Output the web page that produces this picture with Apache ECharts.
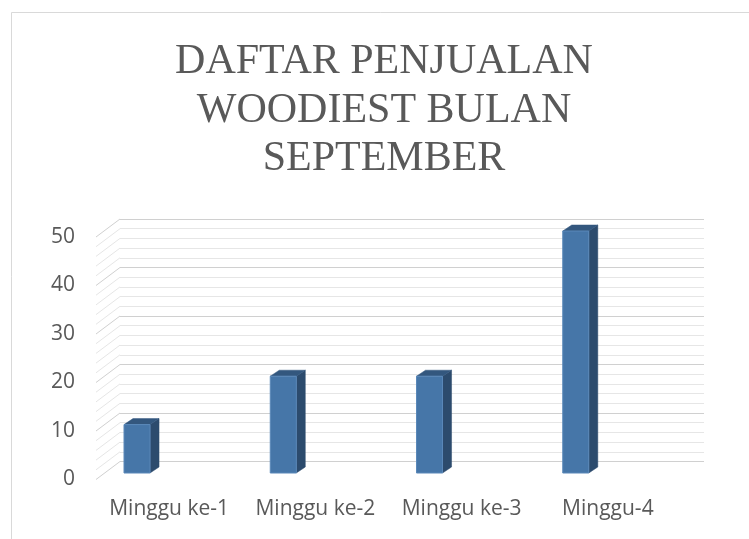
<!DOCTYPE html>
<html>
<head>
<meta charset="utf-8">
<script src="https://cdn.jsdelivr.net/npm/echarts@6/dist/echarts.min.js"></script>
<style>html,body{margin:0;padding:0;background:#fff;}#c{width:749px;height:539px;}</style>
</head>
<body>
<div id="c"></div>
<script>
// ---- data ----
var titleLines = ['DAFTAR PENJUALAN', 'WOODIEST BULAN', 'SEPTEMBER'];
var categories = ['Minggu ke-1', 'Minggu ke-2', 'Minggu ke-3', 'Minggu-4'];
var values = [10, 20, 20, 50];
var yTicks = [0, 10, 20, 30, 40, 50];
var minorPerMajor = 5;

// ---- derived ----
var yMin = yTicks[0], yMax = yTicks[yTicks.length - 1], yStep = yTicks[1] - yTicks[0];
var gridTicks = [];
for (var k = 0; k < yTicks.length; k++) {
  gridTicks.push([0, yTicks[k]]);
  if (k < yTicks.length - 1) {
    for (var m = 1; m < minorPerMajor; m++) gridTicks.push([0, yTicks[k] + m * yStep / minorPerMajor]);
  }
}

// 3D projection style constants
var WALL_DX = -24, WALL_DY = 18;   // back wall -> front plane
var BAR_DX = 9, BAR_DY = -6;       // bar depth
var BAR_PLANE_DY = -6;             // bar front face relative to front plane
var MAJOR = '#d0d0d0', MINOR = '#e6e6e6';

var chart = echarts.init(document.getElementById('c'));
chart.setOption({
  animation: false,
  backgroundColor: '#ffffff',
  title: {
    text: titleLines.join('\n'),
    left: 384, top: 38, padding: 0, textAlign: 'center',
    textStyle: { fontFamily: 'Liberation Serif', fontSize: 42, lineHeight: 48.5, fontWeight: 'normal', color: '#595959' }
  },
  graphic: [{
    type: 'rect', shape: { x: 11.5, y: 12.5, width: 900, height: 700 },
    style: { fill: 'none', stroke: '#d9d9d9', lineWidth: 1 }, silent: true, z: -10
  }],
  grid: [
    { left: 120, right: 45, top: 219, bottom: 77.5 },   // back wall
    { left: 96, right: 68, top: 237, bottom: 60 }      // front plane
  ],
  xAxis: [
    { gridIndex: 0, type: 'value', min: 0, max: 1, show: false },
    { gridIndex: 1, type: 'category', data: categories,
      axisLine: { show: false }, axisTick: { show: false }, splitLine: { show: false },
      axisLabel: { interval: 0, margin: 20, fontFamily: 'Open Sans', fontSize: 21, color: '#595959' } }
  ],
  yAxis: [
    { gridIndex: 0, type: 'value', min: yMin, max: yMax, interval: yStep,
      axisLine: { show: false }, axisTick: { show: false }, axisLabel: { show: false },
      splitLine: { show: true, lineStyle: { color: MAJOR, width: 1 } },
      minorTick: { show: false, splitNumber: minorPerMajor },
      minorSplitLine: { show: true, lineStyle: { color: MINOR, width: 1 } } },
    { gridIndex: 1, type: 'value', min: yMin, max: yMax, interval: yStep,
      axisLine: { show: false }, axisTick: { show: false }, splitLine: { show: false },
      axisLabel: { margin: 21, padding: [5, 0, 0, 0], fontFamily: 'Open Sans', fontSize: 21, color: '#595959' } }
  ],
  series: [
    {
      type: 'custom', xAxisIndex: 0, yAxisIndex: 0, clip: false, silent: true, z: 1,
      data: gridTicks,
      renderItem: function (params, api) {
        var v = api.value(1);
        var b = api.coord([0, v]);
        var major = Math.abs(v / yStep - Math.round(v / yStep)) < 1e-6;
        return { type: 'line',
          shape: { x1: b[0], y1: b[1], x2: b[0] + WALL_DX, y2: b[1] + WALL_DY },
          style: { stroke: major ? MAJOR : MINOR, lineWidth: 1 } };
      }
    },
    {
      type: 'custom', xAxisIndex: 1, yAxisIndex: 1, clip: false, z: 5,
      data: values.map(function (v, i) { return [i, v]; }),
      renderItem: function (params, api) {
        var i = api.value(0), v = api.value(1);
        var p = api.coord([i, v]), p0 = api.coord([i, 0]);
        var band = api.size([1, 0])[0];
        var L = p[0] - 0.3085 * band, W = 0.178 * band, R = L + W;
        var T = p[1] + BAR_PLANE_DY, B = p0[1] + BAR_PLANE_DY;
        return { type: 'group', children: [
          { type: 'polygon', shape: { points: [[R, T], [R + BAR_DX, T + BAR_DY], [R + BAR_DX, B + BAR_DY], [R, B]] },
            style: { fill: '#2c4b6d', stroke: '#2c4b6d', lineWidth: 0.5 } },
          { type: 'polygon', shape: { points: [[L, T], [L + BAR_DX, T + BAR_DY], [R + BAR_DX, T + BAR_DY], [R, T]] },
            style: { fill: '#33577e', stroke: '#33577e', lineWidth: 0.5 } },
          { type: 'rect', shape: { x: L, y: T, width: W, height: B - T },
            style: { fill: '#4676a8', stroke: '#5a88b9', lineWidth: 1 } }
        ] };
      }
    }
  ]
});
</script>
</body>
</html>
